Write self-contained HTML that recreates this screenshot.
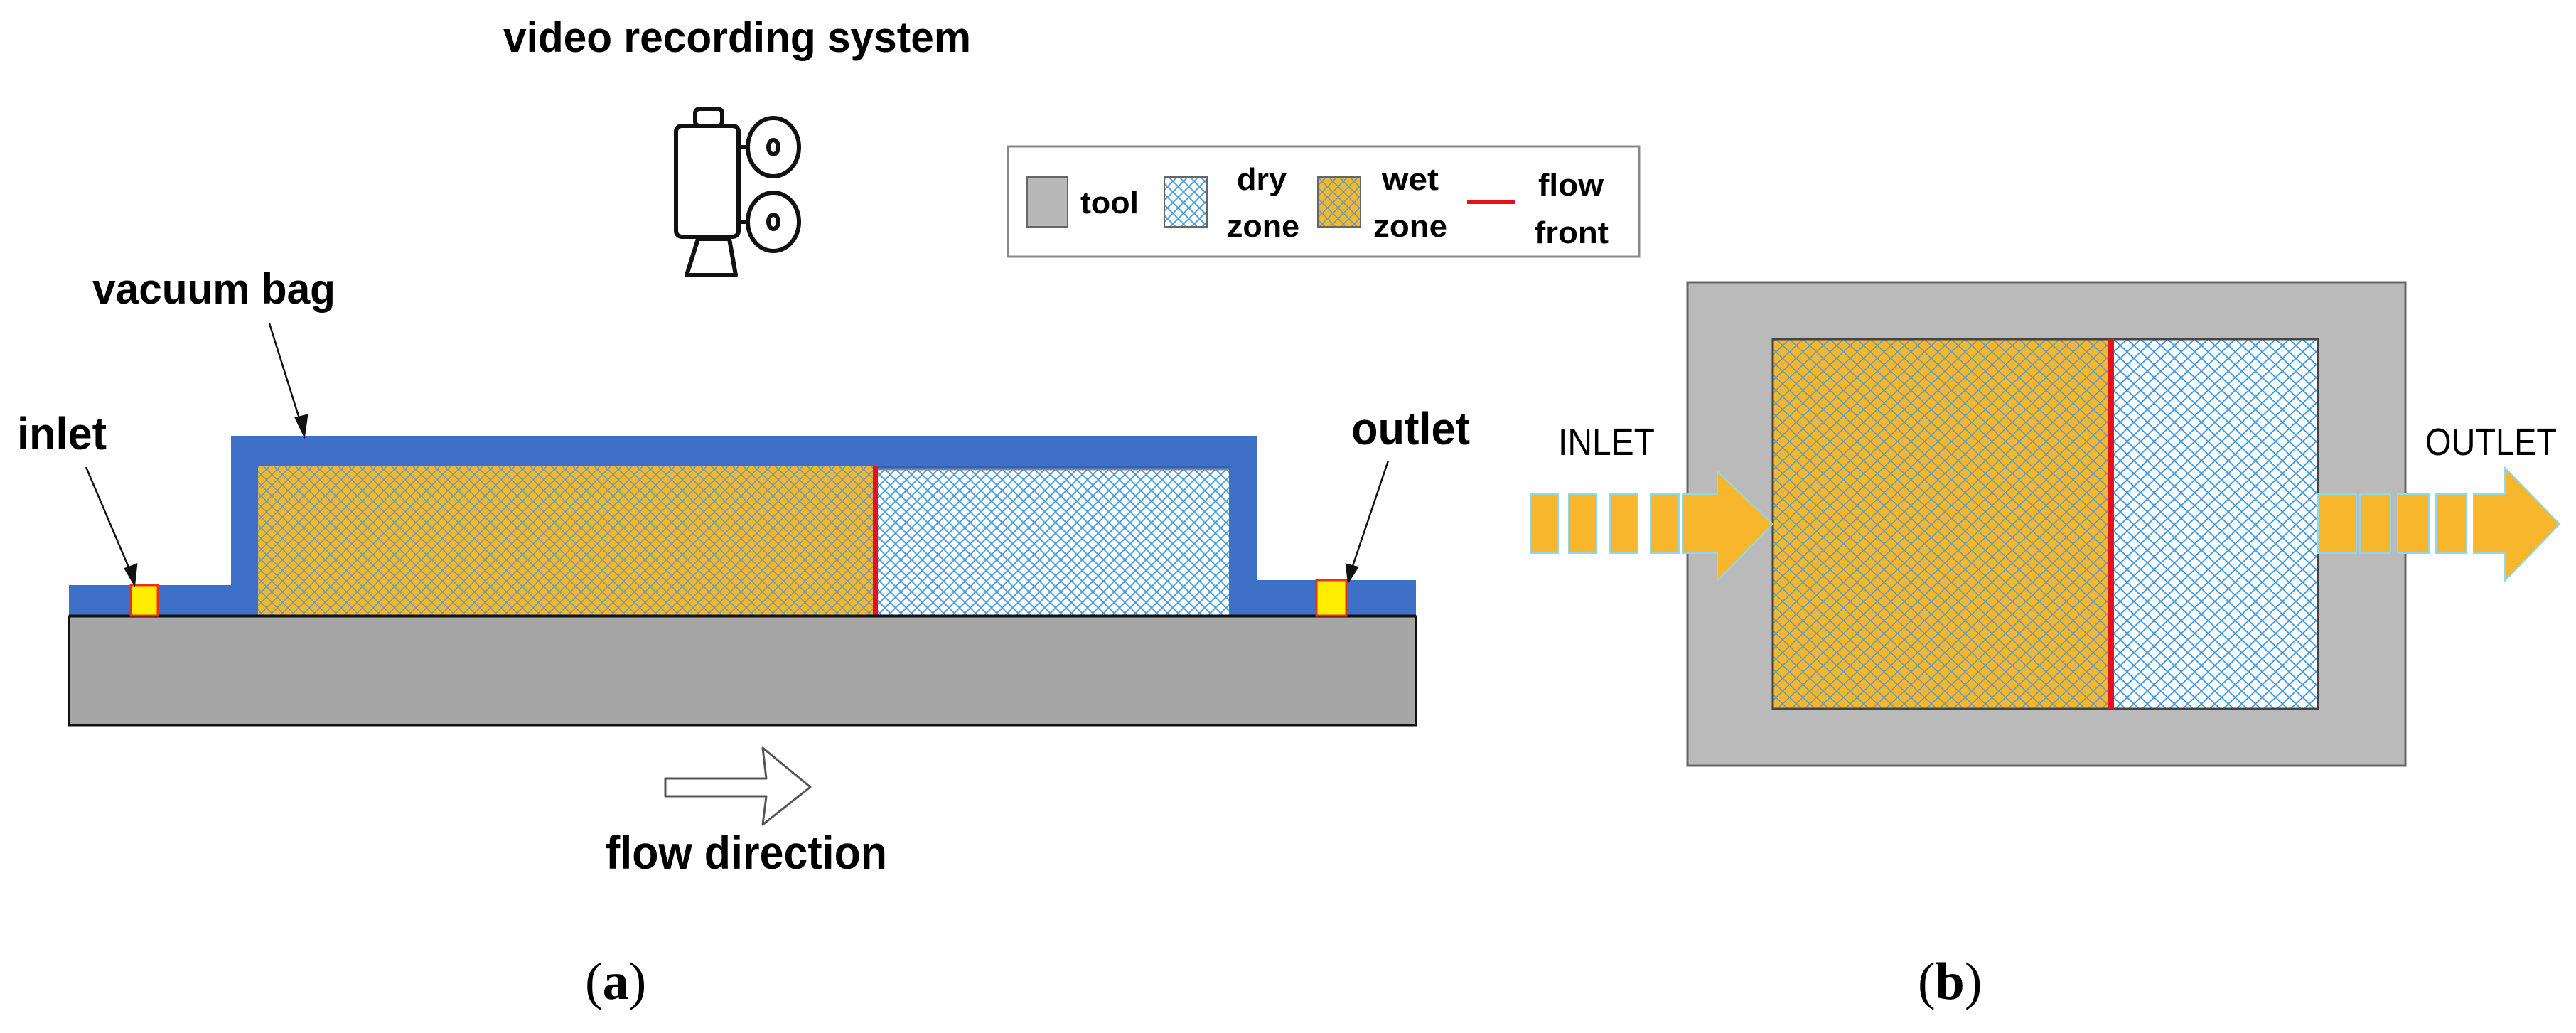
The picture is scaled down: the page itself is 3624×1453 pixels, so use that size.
<!DOCTYPE html>
<html><head><meta charset="utf-8"><style>
html,body{margin:0;padding:0;background:#fff;}
svg{display:block;}
text{font-family:"Liberation Sans",sans-serif;}
.b{font-weight:bold;}
</style></head><body>
<svg width="3624" height="1453" viewBox="0 0 3624 1453" xmlns="http://www.w3.org/2000/svg">
<defs>
<pattern id="wetA" width="15" height="15" patternUnits="userSpaceOnUse">
<rect width="15" height="15" fill="#f8b62c"/>
<path d="M0,0 L15,15 M15,0 L0,15" stroke="#4a9ad0" stroke-width="1.6" opacity="0.85"/>
</pattern>
<pattern id="dryA" width="15" height="15" patternUnits="userSpaceOnUse">
<rect width="15" height="15" fill="#ffffff"/>
<path d="M0,0 L15,15 M15,0 L0,15" stroke="#3f9be6" stroke-width="1.8"/>
</pattern>
<pattern id="wetB" width="19" height="18" patternUnits="userSpaceOnUse">
<rect width="19" height="18" fill="#f8b62c"/>
<path d="M0,0 L19,18 M19,0 L0,18" stroke="#4a9ad0" stroke-width="1.7" opacity="0.85"/>
</pattern>
<pattern id="dryB" width="19" height="18" patternUnits="userSpaceOnUse">
<rect width="19" height="18" fill="#ffffff"/>
<path d="M0,0 L19,18 M19,0 L0,18" stroke="#3f9be6" stroke-width="1.9"/>
</pattern>
</defs>

<!-- title -->
<text class="b" x="708" y="73" font-size="60" textLength="658" lengthAdjust="spacingAndGlyphs">video recording system</text>

<!-- camera -->
<g fill="none" stroke="#111" stroke-width="6" stroke-linejoin="round">
<rect x="978" y="153" width="38" height="24" rx="6"/>
<rect x="951" y="177" width="88" height="156" rx="8"/>
<ellipse cx="1088" cy="207" rx="36" ry="41"/>
<ellipse cx="1088" cy="207" rx="7" ry="10"/>
<ellipse cx="1088" cy="312" rx="36" ry="41"/>
<ellipse cx="1088" cy="312" rx="7" ry="10"/>
<line x1="1040" y1="207" x2="1052" y2="207"/>
<line x1="1040" y1="312" x2="1052" y2="312"/>
<path d="M982,336 L1026,336 L1035,387 L966,387 Z"/>
</g>

<!-- legend -->
<rect x="1418" y="206" width="888" height="155" fill="#fff" stroke="#888" stroke-width="3"/>
<rect x="1445" y="249" width="57" height="70" fill="#b8b8b8" stroke="#666" stroke-width="2"/>
<text class="b" x="1520" y="300" font-size="44" textLength="82" lengthAdjust="spacingAndGlyphs">tool</text>
<rect x="1638" y="249" width="60" height="70" fill="url(#dryA)" stroke="#666" stroke-width="2"/>
<text class="b" x="1740" y="267" font-size="44" textLength="70" lengthAdjust="spacingAndGlyphs">dry</text>
<text class="b" x="1726" y="333" font-size="44" textLength="102" lengthAdjust="spacingAndGlyphs">zone</text>
<rect x="1854" y="249" width="60" height="70" fill="url(#wetA)" stroke="#666" stroke-width="2"/>
<text class="b" x="1944" y="267" font-size="44" textLength="80" lengthAdjust="spacingAndGlyphs">wet</text>
<text class="b" x="1932" y="333" font-size="44" textLength="104" lengthAdjust="spacingAndGlyphs">zone</text>
<line x1="2064" y1="284" x2="2132" y2="284" stroke="#e8101a" stroke-width="6"/>
<text class="b" x="2164" y="275" font-size="44" textLength="92" lengthAdjust="spacingAndGlyphs">flow</text>
<text class="b" x="2159" y="342" font-size="44" textLength="104" lengthAdjust="spacingAndGlyphs">front</text>

<!-- panel a -->
<text class="b" x="130" y="427" font-size="60" textLength="342" lengthAdjust="spacingAndGlyphs">vacuum bag</text>
<text class="b" x="24" y="632" font-size="64" textLength="126" lengthAdjust="spacingAndGlyphs">inlet</text>
<text class="b" x="1901" y="625" font-size="64" textLength="167" lengthAdjust="spacingAndGlyphs">outlet</text>

<rect x="97" y="867" width="1895" height="153" fill="#a6a6a6" stroke="#111" stroke-width="3"/>
<path d="M97,823 L325,823 L325,613 L1768,613 L1768,816 L1992,816 L1992,867 L97,867 Z" fill="#3f70c8"/>
<rect x="363" y="656" width="1368" height="4" fill="#2f62bd"/>
<rect x="363" y="656" width="866" height="211" fill="url(#wetA)"/>
<rect x="1235" y="660" width="494" height="207" fill="url(#dryA)"/>
<line x1="1235" y1="660" x2="1729" y2="660" stroke="#888" stroke-width="3"/>
<rect x="1228" y="656" width="7" height="211" fill="#e8101a"/>
<line x1="97" y1="866" x2="1992" y2="866" stroke="#111" stroke-width="3"/>
<rect x="184" y="823" width="38" height="43" fill="#ffee00" stroke="#e8301a" stroke-width="3"/>
<rect x="1852" y="816" width="42" height="50" fill="#ffee00" stroke="#e8301a" stroke-width="3"/>

<!-- leader arrows -->
<g stroke="#111" stroke-width="2.5" fill="#111">
<line x1="379" y1="455" x2="424" y2="598"/>
<path d="M428,613 L416,588 L432,584 Z"/>
<line x1="121" y1="657" x2="184" y2="805"/>
<path d="M189,822 L176,800 L192,794 Z"/>
<line x1="1953" y1="648" x2="1901" y2="802"/>
<path d="M1897,818 L1894,794 L1910,798 Z"/>
</g>

<!-- flow direction arrow -->
<path d="M936,1095 L1078,1095 L1073,1052 L1140,1107 L1073,1160 L1078,1120 L936,1120 Z" fill="#fff" stroke="#555" stroke-width="3" stroke-linejoin="round"/>
<text class="b" x="852" y="1222" font-size="66" textLength="396" lengthAdjust="spacingAndGlyphs">flow direction</text>

<text x="823" y="1405" font-size="74" style="font-family:'Liberation Serif',serif">(<tspan font-weight="bold">a</tspan>)</text>

<!-- panel b -->
<rect x="2374" y="397" width="1010" height="680" fill="#bababa" stroke="#666" stroke-width="3"/>
<rect x="2494" y="477" width="476" height="520" fill="url(#wetB)"/>
<rect x="2974" y="477" width="287" height="520" fill="url(#dryB)"/>
<rect x="2494" y="477" width="767" height="520" fill="none" stroke="#444" stroke-width="3"/>
<rect x="2966" y="477" width="8" height="520" fill="#e8101a"/>

<text x="2192" y="640" font-size="54" textLength="136" lengthAdjust="spacingAndGlyphs">INLET</text>
<text x="3412" y="640" font-size="54" textLength="185" lengthAdjust="spacingAndGlyphs">OUTLET</text>

<g fill="#f8b62c" stroke="#8fd8e8" stroke-width="2">
<rect x="2153" y="695" width="39" height="83"/>
<rect x="2207" y="695" width="39" height="83"/>
<rect x="2265" y="695" width="39" height="83"/>
<rect x="2322" y="695" width="40" height="83"/>
<path d="M2367,695 L2416,695 L2416,663 L2494,737 L2416,817 L2416,778 L2367,778 Z"/>
<rect x="3261" y="695" width="54" height="83"/>
<rect x="3320" y="695" width="43" height="83"/>
<rect x="3373" y="695" width="44" height="83"/>
<rect x="3427" y="695" width="43" height="83"/>
<path d="M3480,695 L3524,695 L3524,658 L3601,737 L3524,817 L3524,778 L3480,778 Z"/>
</g>

<text x="2698" y="1405" font-size="74" style="font-family:'Liberation Serif',serif">(<tspan font-weight="bold">b</tspan>)</text>
</svg>
</body></html>
